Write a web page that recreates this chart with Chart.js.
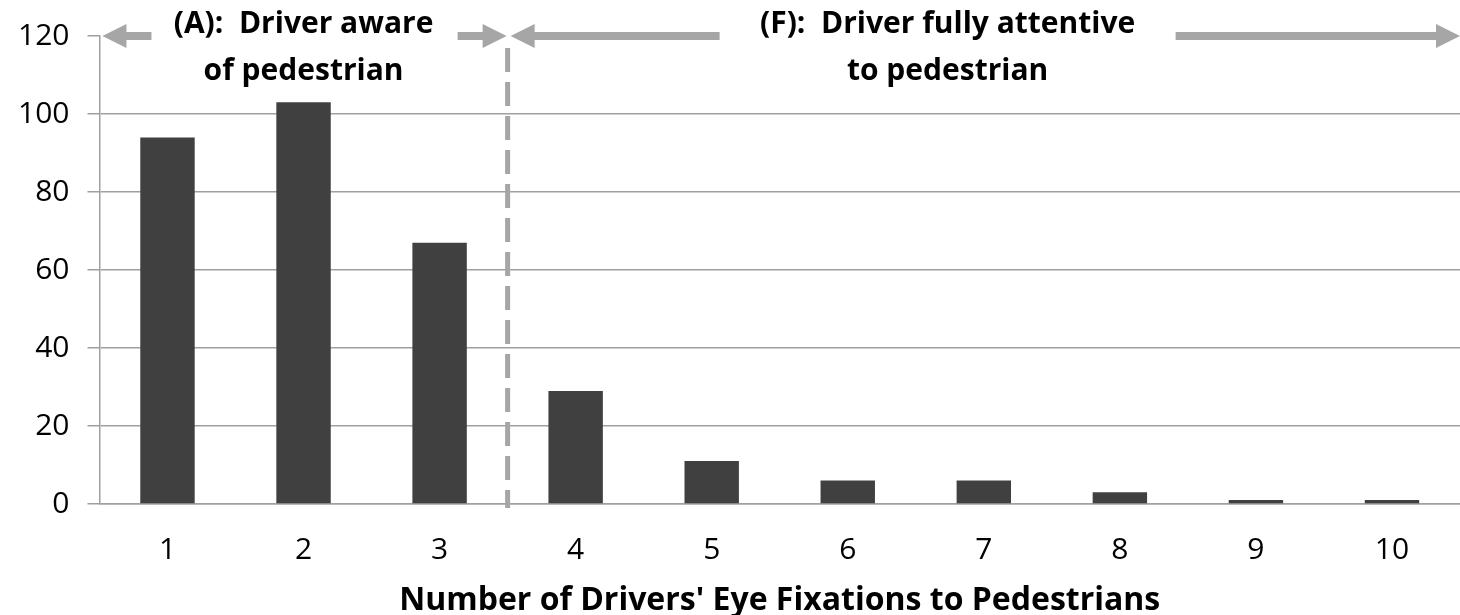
<!DOCTYPE html>
<html>
<head>
<meta charset="utf-8">
<script src="https://cdn.jsdelivr.net/npm/chart.js@4/dist/chart.umd.min.js"></script>
<style>
  html, body { margin: 0; padding: 0; background: #fff; }
  #wrap { width: 1460px; height: 615px; }
</style>
</head>
<body>
<div id="wrap"><canvas id="fixChart"></canvas></div>
<script>
// данные с картинки
const categories = ["1", "2", "3", "4", "5", "6", "7", "8", "9", "10"];
const counts = [94, 103, 67, 29, 11, 6, 6, 3, 1, 1];
const yTicks = [0, 20, 40, 60, 80, 100, 120];
const splitAfter = 2.5;               // граница между (A) и (F)
const labelA = ["(A):  Driver aware", "of pedestrian"];
const labelF = ["(F):  Driver fully attentive", "to pedestrian"];
const xTitle = "Number of Drivers' Eye Fixations to Pedestrians";

const gray = "#a6a6a6";
const font = "'Open Sans', Lato, sans-serif";

function arrowHead(ctx, x, y, dir) {
    ctx.beginPath();
    ctx.moveTo(x, y);
    ctx.lineTo(x - dir * 24, y - 12);
    ctx.lineTo(x - dir * 24, y + 12);
    ctx.closePath();
    ctx.fill();
}

function shaft(ctx, x1, x2, y) {
    ctx.fillRect(Math.min(x1, x2), y - 4, Math.abs(x2 - x1), 8);
}

// пунктир и стрелки сверху
const zonesPlugin = {
    id: "zones",
    afterDatasetsDraw(chart) {
        const ctx = chart.ctx;
        const xs = chart.scales.x;
        const ys = chart.scales.y;
        const split = xs.getPixelForValue(splitAfter);
        const top = ys.getPixelForValue(120);
        const left = chart.chartArea.left;
        const right = chart.chartArea.right;

        ctx.save();
        ctx.strokeStyle = gray;
        ctx.lineWidth = 5;
        ctx.setLineDash([24, 10]);
        ctx.beginPath();
        ctx.moveTo(split, top + 12);
        ctx.lineTo(split, ys.getPixelForValue(0) + 4);
        ctx.stroke();
        ctx.setLineDash([]);

        ctx.fillStyle = gray;
        // (A)
        arrowHead(ctx, left + 3, top, -1);
        shaft(ctx, left + 26, left + 52, top);
        shaft(ctx, split - 50, split - 22, top);
        arrowHead(ctx, split - 1, top, 1);
        // (F)
        arrowHead(ctx, split + 3, top, -1);
        shaft(ctx, split + 25, split + 212, top);
        shaft(ctx, split + 668, right - 22, top);
        arrowHead(ctx, right, top, 1);

        ctx.fillStyle = "#000";
        ctx.font = "bold 30px " + font;
        ctx.textAlign = "center";
        ctx.textBaseline = "middle";
        const aX = (left + split) / 2;
        const fX = split + 440;
        ctx.fillText(labelA[0], aX, top - 12);
        ctx.fillText(labelA[1], aX, top + 35);
        ctx.fillText(labelF[0], fX, top - 12);
        ctx.fillText(labelF[1], fX, top + 35);
        ctx.restore();
    }
};

new Chart(document.getElementById("fixChart"), {
    type: "bar",
    data: {
        labels: categories,
        datasets: [{
            data: counts,
            backgroundColor: "#404040",
            barPercentage: 0.4,
            categoryPercentage: 1.0
        }]
    },
    options: {
        responsive: true,
        maintainAspectRatio: false,
        animation: false,
        layout: { padding: { top: 34, right: 0, left: 0, bottom: 0 } },
        plugins: {
            legend: { display: false },
            tooltip: { enabled: false }
        },
        scales: {
            x: {
                afterFit: scale => { scale.height = 111; },
                grid: { display: false },
                border: { color: "#a0a0a0", width: 1.5 },
                ticks: {
                    color: "#000",
                    font: { family: font, size: 30 },
                    padding: 20
                },
                title: {
                    display: true,
                    text: xTitle,
                    color: "#000",
                    font: { family: font, size: 32, weight: "bold" },
                    padding: { top: 0, bottom: -5 }
                }
            },
            y: {
                min: 0,
                max: 120,
                afterBuildTicks: axis => {
                    axis.ticks = yTicks.map(v => ({ value: v }));
                },
                grid: {
                    color: c => (c.tick && c.tick.value === 120) ? "rgba(0,0,0,0)" : "#a0a0a0",
                    tickColor: "#a0a0a0",
                    tickLength: 12,
                    lineWidth: 1.5
                },
                border: { color: "#a0a0a0", width: 1.5 },
                ticks: {
                    color: "#000",
                    font: { family: font, size: 30 },
                    padding: 18
                }
            }
        }
    },
    plugins: [zonesPlugin]
});
</script>
</body>
</html>
